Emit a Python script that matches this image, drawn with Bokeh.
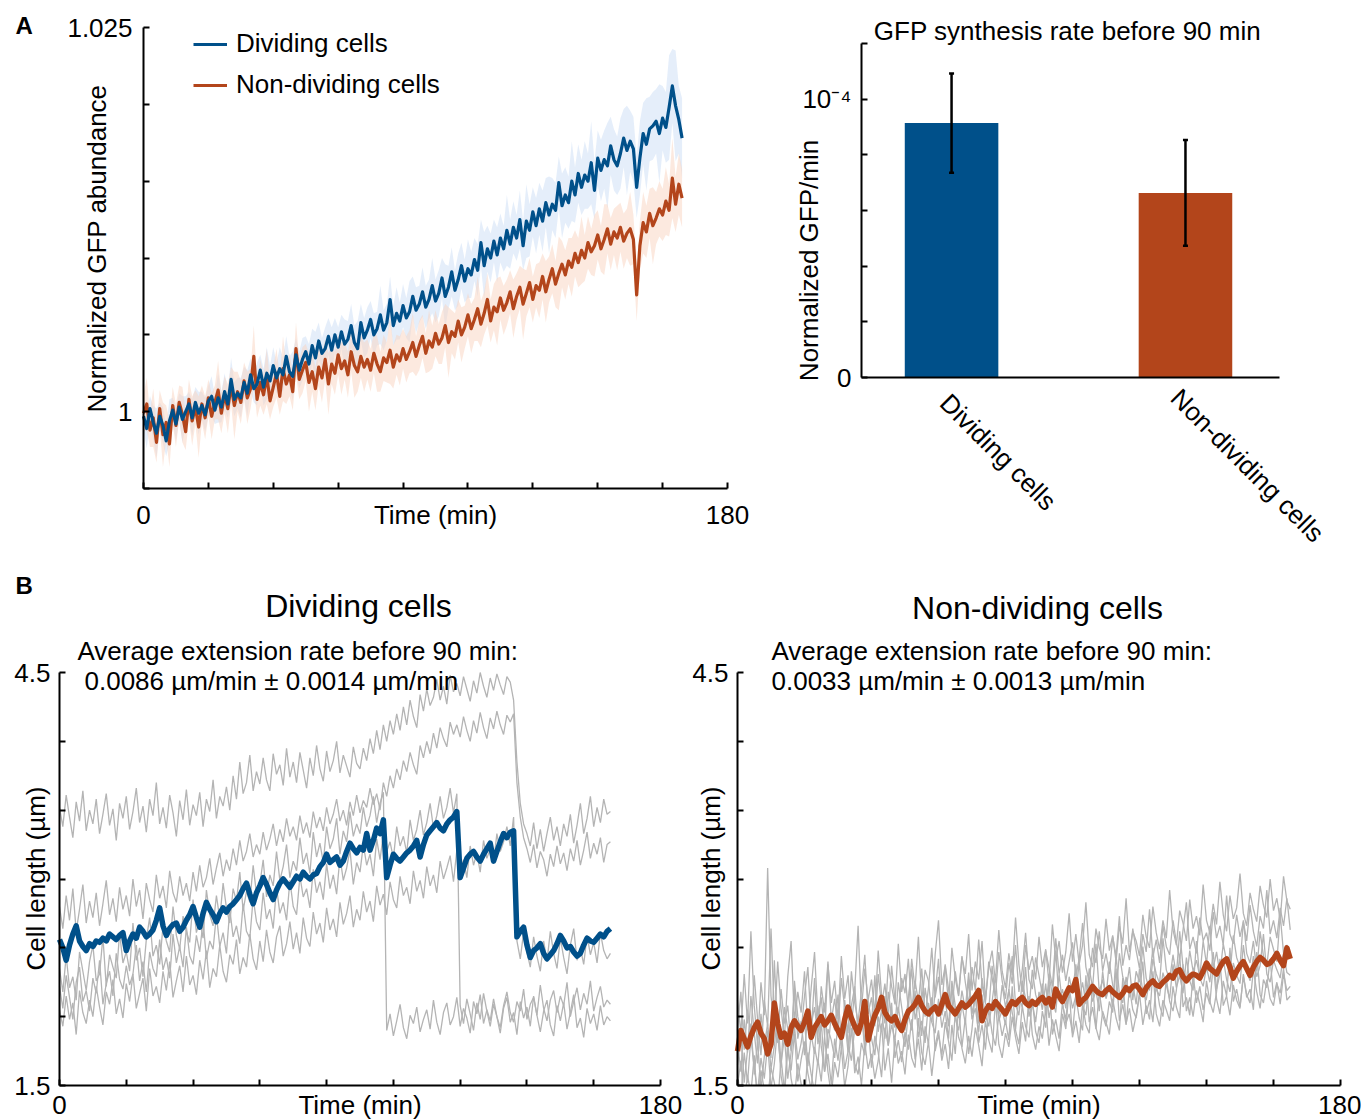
import math
from bokeh.plotting import figure
from bokeh.models import (Range1d, FixedTicker, Label, Legend, LegendItem,
                          ColumnDataSource, Whisker, TeeHead, BoxAnnotation)
from bokeh.layouts import row, column
from bokeh.embed import file_html
from bokeh.resources import INLINE

FONT = "Liberation Sans"
BLUE = "#00508A"
ORANGE = "#B3451B"
GRAY = "#B4B4B4"

# ---------------- Panel A (left): normalized GFP abundance ----------------
minutes_A = list(range(167))
# values are (abundance - 1) x 1000
dividing_gfp_permille = [
    -0.3, -1.1, 0.2, -0.7, -1.4, -0.3, -0.9, -1.9, -0.6, 0.1,
    -0.8, 0.3, -0.5, 0.0, 0.5, -0.4, 0.6, -0.1, 0.4, -0.2,
    0.7, 1.0, 0.1, 0.9, 0.3, 1.3, 0.5, 2.1, 0.8, 1.2,
    0.9, 1.9, 1.2, 2.4, 1.5, 1.8, 2.7, 1.6, 2.5, 2.0,
    3.0, 2.2, 2.8, 2.4, 3.6, 2.6, 2.3, 3.7, 2.7, 3.4,
    3.9, 3.1, 4.3, 3.5, 4.6, 3.8, 4.1, 4.9, 4.0, 5.0,
    4.2, 5.2, 4.4, 4.7, 5.6, 4.5, 4.1, 5.8, 4.8, 5.3,
    6.0, 5.0, 5.4, 6.3, 5.3, 5.8, 7.3, 5.6, 6.4, 5.9,
    6.9, 6.1, 6.5, 7.5, 6.6, 7.0, 7.8, 6.8, 7.3, 8.2,
    7.2, 7.7, 8.7, 7.5, 8.1, 9.1, 7.9, 8.6, 9.5, 8.5,
    9.3, 8.9, 9.9, 9.2, 11.0, 9.5, 10.6, 10.0, 11.1, 10.2,
    11.3, 10.6, 11.8, 10.9, 12.0, 11.3, 12.5, 10.8, 12.4, 11.8,
    13.0, 12.1, 13.2, 12.4, 13.6, 12.8, 13.5, 13.1, 14.9, 13.4,
    14.1, 13.6, 15.0, 14.1, 15.5, 14.6, 15.4, 15.0, 16.2, 14.4,
    16.5, 15.7, 16.4, 16.0, 17.3, 16.4, 16.0, 16.8, 17.8, 17.0,
    17.6, 17.1, 14.6, 16.5, 18.1, 17.4, 18.4, 18.6, 18.9, 18.1,
    19.1, 18.5, 19.8, 21.2, 19.9, 19.0, 17.8]
dividing_gfp_sd_permille = [
    0.9, 1.3, 0.8, 1.1, 1.6, 0.9, 1.2, 1.0, 1.4, 0.8,
    1.1, 0.9, 1.5, 1.0, 0.8, 1.2, 1.0, 1.4, 0.9, 1.1,
    1.0, 1.3, 0.9, 1.6, 1.0, 1.2, 0.9, 1.4, 1.1, 1.0,
    1.3, 1.0, 1.5, 1.1, 0.9, 1.4, 1.0, 1.2, 1.7, 1.0,
    1.2, 1.0, 1.4, 1.1, 1.3, 1.0, 1.6, 1.1, 1.2, 1.4,
    1.0, 1.3, 1.1, 1.7, 1.2, 1.0, 1.4, 1.2, 1.5, 1.1,
    1.3, 1.1, 1.6, 1.2, 1.4, 1.1, 1.8, 1.2, 1.3, 1.5,
    1.2, 1.4, 1.1, 1.9, 1.3, 1.2, 1.5, 1.3, 1.7, 1.2,
    1.4, 1.3, 2.0, 1.3, 1.5, 1.2, 1.6, 1.4, 1.3, 1.8,
    1.4, 1.5, 1.3, 2.1, 1.4, 1.6, 1.3, 1.7, 1.5, 1.4,
    1.9, 1.5, 1.4, 1.7, 1.5, 2.2, 1.5, 1.6, 1.4, 1.8,
    1.6, 1.5, 2.3, 1.6, 1.7, 1.5, 1.9, 1.6, 2.4, 1.7,
    1.6, 1.8, 1.7, 2.0, 1.6, 2.5, 1.7, 1.8, 1.7, 2.1,
    1.8, 1.7, 2.6, 1.8, 1.9, 1.8, 2.2, 1.8, 2.7, 1.9,
    1.8, 2.0, 1.9, 2.8, 1.9, 2.0, 1.9, 2.3, 1.9, 2.9,
    2.0, 2.1, 2.0, 2.4, 2.0, 3.0, 2.1, 2.2, 2.1, 3.2,
    2.1, 2.3, 3.4, 2.4, 3.6, 2.2, 2.6]
nondividing_gfp_permille = [
    -0.1, 0.5, -1.2, -0.4, -2.0, 0.2, -1.5, -0.7, -2.1, 0.4,
    -0.9, 0.6, -0.2, -1.3, 0.8, -0.6, 0.3, -1.0, 0.5, -0.4,
    0.9, -0.3, 0.6, 1.4, -0.1, 1.1, 0.2, 1.7, 0.4, 1.3,
    0.6, 2.0, 0.9, 1.5, 3.6, 0.8, 1.9, 1.1, 2.3, 0.7,
    1.6, 2.5, 1.0, 2.8, 1.8, 2.4, 1.3, 4.1, 2.1, 2.7,
    3.2, 1.9, 2.6, 1.5, 2.9, 2.2, 3.4, 1.8, 3.1, 2.5,
    3.7, 2.8, 3.3, 2.4, 3.9, 3.0, 2.6, 3.6, 2.9, 3.4,
    2.7, 3.8, 3.1, 2.6, 3.5, 3.2, 4.0, 2.9, 3.7, 3.3,
    4.1, 3.4, 3.9, 4.5, 3.6, 4.3, 4.9, 3.8, 4.6, 4.2,
    5.1, 4.4, 4.8, 5.6, 4.5, 5.2, 4.9, 5.9, 5.0, 5.5,
    6.3, 5.4, 6.0, 6.7, 5.7, 6.4, 7.3, 5.9, 6.8, 6.5,
    7.4, 6.6, 7.1, 7.8, 6.7, 7.5, 8.1, 7.0, 7.7, 8.4,
    7.3, 8.2, 7.9, 8.8, 7.8, 8.6, 9.3, 8.3, 9.0, 9.6,
    8.9, 9.8, 9.4, 10.3, 9.7, 10.5, 10.0, 11.0, 10.4, 10.8,
    11.5, 10.6, 11.2, 11.9, 10.9, 11.7, 11.3, 12.0, 11.1, 11.6,
    11.9, 11.2, 7.6, 10.8, 12.3, 11.7, 12.9, 12.1, 12.6, 13.2,
    12.8, 13.7, 13.1, 15.2, 13.5, 14.8, 13.9]
nondividing_gfp_sd_permille = [
    1.2, 1.7, 1.1, 1.9, 1.3, 1.2, 2.1, 1.1, 1.5, 1.2,
    1.4, 1.1, 1.8, 1.2, 1.3, 1.6, 1.1, 2.0, 1.2, 1.4,
    1.2, 1.5, 1.1, 1.9, 1.3, 1.2, 1.6, 1.2, 2.2, 1.3,
    1.4, 1.2, 1.7, 1.3, 2.0, 1.2, 1.5, 1.3, 1.8, 1.2,
    1.3, 1.6, 1.2, 2.1, 1.3, 1.4, 1.2, 1.7, 1.3, 1.5,
    1.2, 1.9, 1.3, 1.4, 1.2, 1.6, 1.3, 2.0, 1.3, 1.4,
    1.3, 1.7, 1.2, 1.5, 1.3, 2.1, 1.3, 1.4, 1.6, 1.3,
    1.4, 1.3, 1.8, 1.3, 1.5, 1.3, 2.2, 1.4, 1.3, 1.6,
    1.3, 1.5, 1.4, 1.9, 1.3, 1.6, 1.4, 1.3, 2.0, 1.4,
    1.5, 1.3, 1.7, 1.4, 2.3, 1.4, 1.5, 1.4, 1.8, 1.4,
    1.4, 1.6, 1.4, 2.1, 1.5, 1.4, 1.7, 1.4, 1.5, 2.2,
    1.4, 1.6, 1.5, 1.4, 1.9, 1.5, 1.4, 2.3, 1.5, 1.6,
    1.5, 1.4, 1.8, 1.5, 2.0, 1.5, 1.6, 1.5, 2.4, 1.5,
    1.6, 1.5, 1.9, 1.5, 1.6, 2.2, 1.5, 1.7, 1.5, 2.0,
    1.6, 1.5, 2.3, 1.6, 1.7, 1.5, 2.1, 1.6, 1.8, 1.6,
    2.4, 1.6, 1.7, 1.6, 2.0, 1.7, 1.6, 2.5, 1.7, 1.8,
    1.7, 2.2, 1.7, 2.6, 1.8, 2.0, 1.9]

# ---------------- Panel A (right): synthesis rate bars ----------------
bar_categories = ["Dividing cells", "Non-dividing cells"]
bar_positions = [1, 2]
synthesis_rate = [0.914e-4, 0.663e-4]
synthesis_err = [0.178e-4, 0.190e-4]

# ---------------- Panel B: cell length traces ----------------
minutes_B = list(range(166))
div_cell_1 = [
    3.52, 3.38, 3.61, 3.45, 3.30, 3.56, 3.42, 3.64, 3.35, 3.50,
    3.40, 3.58, 3.33, 3.47, 3.62, 3.39, 3.51, 3.28, 3.55, 3.44,
    3.60, 3.36, 3.49, 3.66, 3.41, 3.53, 3.34, 3.58, 3.46, 3.70,
    3.40, 3.52, 3.37, 3.61, 3.48, 3.31, 3.57, 3.43, 3.65, 3.39,
    3.54, 3.46, 3.63, 3.38, 3.58, 3.49, 3.72, 3.44, 3.60, 3.53,
    3.67, 3.50, 3.75, 3.58, 3.85, 3.62, 3.70, 3.90, 3.64, 3.78,
    3.69, 3.88, 3.72, 3.64, 3.91, 3.76, 3.83, 3.68, 3.95, 3.74,
    3.85, 3.70, 3.92, 3.79, 3.66, 3.88, 3.75, 3.97, 3.80, 3.71,
    3.93, 3.78, 3.86, 4.00, 3.77, 3.90, 3.82, 3.74, 3.96, 3.84,
    3.80, 3.95, 3.86, 4.02, 3.91, 4.08, 3.94, 4.12, 4.00, 4.15,
    4.05, 4.20, 4.08, 4.25, 4.12, 4.30, 4.18, 4.10, 4.34, 4.22,
    4.38, 4.26, 4.32, 4.45, 4.30, 4.40, 4.27, 4.48, 4.36, 4.42,
    4.33, 4.47, 4.38, 4.29, 4.44, 4.35, 4.50, 4.40, 4.32, 4.46,
    4.37, 4.49, 4.41, 4.34, 4.47, 4.43, 4.30, 3.85, 3.55, 3.40,
    3.33, 3.24, 3.41, 3.22, 3.36, 3.20, 3.33, 3.45, 3.28, 3.38,
    3.24, 3.40, 3.31, 3.47, 3.26, 3.39, 3.55, 3.33, 3.44, 3.60,
    3.38, 3.52, 3.41, 3.58, 3.47, 3.49]
div_cell_2 = [
    2.80, 2.64, 2.88, 2.70, 2.93, 2.62, 2.78, 2.96, 2.68, 2.84,
    2.72, 2.90, 2.66, 2.82, 2.99, 2.74, 2.86, 2.69, 2.94, 2.78,
    2.88, 2.73, 3.00, 2.80, 2.92, 2.71, 2.97, 2.85, 2.76, 3.03,
    2.86, 2.95, 2.79, 3.06, 2.90, 2.83, 3.02, 2.88, 2.97, 2.84,
    3.05, 2.91, 3.10, 2.94, 3.01, 3.15, 2.96, 3.08, 3.19, 3.02,
    3.14, 3.06, 3.22, 3.10, 3.28, 3.13, 3.20, 3.33, 3.16, 3.25,
    3.18, 3.34, 3.21, 3.29, 3.40, 3.24, 3.36, 3.27, 3.44, 3.31,
    3.38, 3.28, 3.46, 3.33, 3.41, 3.30, 3.49, 3.37, 3.45, 3.35,
    3.52, 3.40, 3.47, 3.58, 3.42, 3.50, 3.39, 3.56, 3.46, 3.61,
    3.48, 3.57, 3.52, 3.66, 3.54, 3.62, 3.50, 3.70, 3.60, 3.75,
    3.66, 3.80, 3.72, 3.86, 3.78, 3.92, 3.83, 3.76, 3.97, 3.88,
    4.00, 3.91, 4.06, 3.95, 4.10, 4.02, 3.96, 4.14, 4.05, 4.12,
    4.03, 4.18, 4.08, 4.00, 4.15, 4.06, 4.21, 4.10, 4.02, 4.17,
    4.09, 4.22, 4.12, 4.05, 4.19, 4.14, 4.20, 3.70, 3.45, 3.30,
    3.22, 3.12, 3.25, 3.08, 3.20, 3.14, 3.02, 3.18, 3.09, 3.24,
    3.11, 3.19, 3.06, 3.22, 3.13, 3.28, 3.10, 3.21, 3.34, 3.15,
    3.26, 3.18, 3.30, 3.12, 3.25, 3.27]
div_cell_3 = [
    2.35, 2.18, 2.44, 2.21, 2.29, 2.12, 2.47, 2.33, 2.19, 2.40,
    2.52, 2.26, 2.31, 2.58, 2.22, 2.45, 2.36, 2.28, 2.61, 2.39,
    2.47, 2.33, 2.68, 2.41, 2.50, 2.29, 2.56, 2.72, 2.44, 2.52,
    2.38, 2.66, 2.55, 2.47, 2.80, 2.59, 2.49, 2.73, 2.62, 2.54,
    2.85, 2.61, 2.70, 2.57, 2.92, 2.74, 2.66, 2.88, 2.71, 2.97,
    2.79, 2.68, 2.93, 2.84, 3.05, 2.77, 2.91, 2.83, 3.10, 2.89,
    2.96, 3.14, 2.87, 3.03, 2.95, 3.20, 2.99, 3.09, 3.25, 3.01,
    3.13, 3.06, 3.30, 3.11, 3.19, 3.04, 3.34, 3.16, 3.26, 3.12,
    3.38, 3.22, 3.29, 3.44, 3.18, 3.35, 3.27, 3.49, 3.31, 3.40,
    3.33, 3.52, 3.38, 3.46, 3.60, 3.41, 3.55, 3.63,
    1.90, 2.02, 1.86, 1.97, 2.09, 1.92, 1.84, 2.01, 1.95, 2.07, 1.89, 1.98,
    2.05, 1.91, 2.12, 1.96, 1.87, 2.03, 2.10, 1.94, 2.00, 2.14,
    1.93, 2.06, 1.99, 1.88, 2.11, 2.02, 2.16, 1.95, 2.05, 1.97,
    2.13, 2.00, 1.92, 2.08, 2.18, 2.03, 1.96, 2.11, 2.04, 2.20,
    1.98, 2.09, 2.14, 2.01, 2.23, 2.06, 1.97, 2.12, 2.19, 2.03,
    2.15, 2.08, 2.25, 2.00, 2.11, 2.21, 2.05, 2.17, 2.09, 2.26,
    2.04, 2.14, 2.22, 2.07, 2.12, 2.09]
div_cell_4 = [
    2.22, 2.06, 2.30, 2.14, 1.98, 2.25, 2.36, 2.11, 2.19, 2.04,
    2.28, 2.17, 2.41, 2.09, 2.24, 2.33, 2.15, 2.46, 2.27, 2.20,
    2.37, 2.23, 2.31, 2.52, 2.26, 2.40, 2.18, 2.47, 2.35, 2.29,
    2.56, 2.34, 2.43, 2.28, 2.60, 2.39, 2.51, 2.36, 2.65, 2.44,
    2.38, 2.59, 2.47, 2.70, 2.42, 2.55, 2.49, 2.74, 2.51, 2.61,
    2.46, 2.78, 2.58, 2.66, 2.53, 2.82, 2.62, 2.57, 2.86, 2.69,
    2.63, 2.90, 2.71, 2.78, 2.64, 2.94, 2.75, 2.83, 2.70, 2.99,
    2.80, 2.74, 3.02, 2.87, 2.93, 2.79, 3.07, 2.90, 2.98, 2.85,
    3.11, 2.93, 3.03, 2.89, 3.16, 2.99, 3.08, 3.21, 2.96, 3.12,
    3.05, 3.25, 3.10, 3.18, 3.02, 3.29, 3.14, 3.33, 3.20, 3.27,
    3.15, 3.38, 3.24, 3.31, 3.19, 3.43, 3.28, 3.36, 3.50, 3.32,
    3.41, 3.55, 3.37, 3.46, 3.60, 3.44, 3.52, 3.66, 3.48, 3.62,
    2.08, 1.95, 2.13, 2.02, 1.90, 2.10, 1.98, 2.17, 2.04, 1.93,
    2.09, 2.00, 1.88, 2.06, 2.14, 1.96, 2.03, 1.87, 2.11, 1.99,
    2.07, 1.93, 2.15, 2.01, 1.89, 2.04, 2.12, 1.94, 1.86, 2.08,
    1.97, 2.10, 1.91, 2.03, 2.16, 1.92, 1.99, 1.85, 2.06, 1.95,
    2.02, 1.90, 2.08, 1.94, 2.00, 1.97]
div_cell_5 = [
    2.05, 1.93, 2.15, 1.98, 2.10, 1.87, 2.19, 2.03, 1.95, 2.12,
    2.00, 2.22, 2.07, 1.94, 2.18, 2.09, 2.27, 2.02, 2.13, 1.99,
    2.24, 2.11, 2.31, 2.06, 2.17, 2.28, 2.04, 2.35, 2.15, 2.22,
    2.10, 2.33, 2.19, 2.40, 2.14, 2.26, 2.37, 2.18, 2.44, 2.23,
    2.30, 2.16, 2.41, 2.27, 2.48, 2.21, 2.35, 2.29, 2.52, 2.33,
    2.25, 2.45, 2.38, 2.56, 2.31, 2.43, 2.36, 2.60, 2.42, 2.34,
    2.55, 2.40, 2.63, 2.47, 2.39, 2.58, 2.66, 2.44, 2.53, 2.69,
    2.49, 2.61, 2.46, 2.72, 2.57, 2.51, 2.76, 2.60, 2.68, 2.54,
    2.79, 2.63, 2.71, 2.58, 2.83, 2.67, 2.75, 2.88, 2.65, 2.78,
    2.70, 2.91, 2.76, 2.84, 2.69, 2.95, 2.81, 2.89, 2.74, 2.98,
    2.85, 2.79, 3.02, 2.88, 2.94, 2.82, 3.06, 2.91, 2.99, 2.86,
    3.09, 2.95, 3.03, 2.90, 3.13, 3.00, 3.08, 3.17, 2.98, 3.21,
    3.06, 3.14, 3.01, 3.24, 3.10, 3.19, 3.05, 3.28, 3.15, 3.22,
    3.12, 3.33, 3.20, 3.27, 3.38, 3.24, 3.45,
    2.55, 2.42, 2.61,
    2.47, 2.36, 2.58, 2.44, 2.33, 2.55, 2.40, 2.62, 2.46, 2.35,
    2.57, 2.43, 2.31, 2.52, 2.64, 2.41, 2.50, 2.38, 2.59, 2.45,
    2.54, 2.39, 2.61, 2.48, 2.42, 2.46]
dividing_mean_length = [
    2.56, 2.50, 2.41, 2.52, 2.60, 2.66, 2.55, 2.51, 2.48, 2.53,
    2.51, 2.55, 2.54, 2.57, 2.55, 2.60, 2.58, 2.56, 2.59, 2.61,
    2.48, 2.55, 2.60, 2.57, 2.65, 2.62, 2.58, 2.60, 2.63, 2.70,
    2.79, 2.66, 2.59, 2.64, 2.67, 2.68, 2.62, 2.65, 2.70, 2.74,
    2.80, 2.72, 2.65, 2.75, 2.83, 2.78, 2.74, 2.69, 2.75, 2.79,
    2.76, 2.80, 2.82, 2.85, 2.88, 2.93, 2.97, 2.89, 2.82, 2.90,
    2.95, 3.01, 2.96, 2.90, 2.85, 2.92, 2.97, 3.00, 2.97, 2.94,
    2.98, 3.02, 3.00, 3.05, 3.02, 3.00, 3.03, 3.04, 3.09, 3.12,
    3.18, 3.12, 3.14, 3.16, 3.10, 3.13, 3.20, 3.26, 3.22, 3.19,
    3.23, 3.21, 3.33, 3.21, 3.28, 3.37, 3.33, 3.43, 3.01, 3.10,
    3.18, 3.15, 3.13, 3.16, 3.19, 3.21, 3.24, 3.28, 3.16, 3.25,
    3.32, 3.35, 3.38, 3.41, 3.37, 3.35, 3.40, 3.43, 3.45, 3.49,
    3.01, 3.08, 3.15, 3.18, 3.20, 3.16, 3.13, 3.18, 3.22, 3.26,
    3.13, 3.20, 3.27, 3.33, 3.30, 3.34, 3.35, 2.58, 2.62, 2.65,
    2.52, 2.43, 2.48, 2.50, 2.53, 2.46, 2.42, 2.45, 2.48, 2.53,
    2.59, 2.55, 2.50, 2.51, 2.47, 2.44, 2.46, 2.52, 2.57, 2.55,
    2.54, 2.57, 2.60, 2.58, 2.62, 2.64]

nondiv_cell_1 = [
    2.12, 1.88, 2.31, 1.95, 2.62, 2.08, 1.79, 2.25, 2.01, 3.08,
    2.15, 1.92, 2.40, 2.06, 1.84, 2.29, 2.55, 1.97, 2.18, 2.03,
    2.33, 1.90, 2.21, 2.47, 2.00, 2.14, 1.86, 2.38, 2.10, 2.26,
    1.98, 2.44, 2.13, 2.30, 1.93, 2.19, 2.66, 2.05, 2.35, 2.12,
    2.27, 2.02, 2.48, 2.16, 1.95, 2.38, 2.22, 2.09, 2.53, 2.18,
    2.31, 2.05, 2.42, 2.20, 2.58, 2.11, 2.34, 2.26, 2.02, 2.45,
    2.70, 2.23, 2.37, 2.09, 2.50, 2.28, 2.15, 2.43, 2.31, 2.60,
    2.19, 2.40, 2.27, 2.55, 2.12, 2.36, 2.48, 2.25, 2.63, 2.33,
    2.21, 2.46, 2.30, 2.72, 2.38, 2.18, 2.52, 2.34, 2.44, 2.27,
    2.58, 2.36, 2.49, 2.24, 2.67, 2.41, 2.55, 2.32, 2.47, 2.75,
    2.40, 2.60, 2.38, 2.52, 2.83, 2.45, 2.36, 2.64, 2.50, 2.42,
    2.71, 2.48, 2.59, 2.40, 2.66, 2.53, 2.86, 2.47, 2.62, 2.55,
    2.44, 2.74, 2.58, 2.50, 2.80, 2.61, 2.49, 2.70, 2.57, 2.92,
    2.63, 2.52, 2.77, 2.68, 2.55, 2.85, 2.64, 2.73, 2.59, 2.96,
    2.70, 2.61, 2.82, 2.67, 2.98, 2.74, 2.62, 2.88, 2.71, 2.79,
    3.04, 2.75, 2.66, 2.90, 2.78, 2.69, 2.95, 2.81, 2.72, 3.00,
    2.77, 2.86, 2.70, 3.02, 2.84, 2.78]
nondiv_cell_2 = [
    1.90, 2.18, 1.76, 2.05, 1.86, 2.30, 1.98, 1.72, 2.12, 1.93,
    2.64, 2.02, 1.81, 2.20, 1.95, 2.08, 1.78, 2.26, 2.00, 1.89,
    2.15, 2.36, 1.94, 2.07, 1.85, 2.22, 2.03, 2.40, 1.97, 2.13,
    1.91, 2.28, 2.06, 1.88, 2.33, 2.10, 1.96, 2.19, 2.45, 2.02,
    2.14, 1.93, 2.31, 2.08, 2.24, 1.99, 2.37, 2.12, 2.03, 2.28,
    2.17, 2.42, 2.05, 2.26, 2.11, 2.35, 2.00, 2.21, 2.50, 2.14,
    2.29, 2.07, 2.38, 2.20, 2.03, 2.33, 2.16, 2.44, 2.25, 2.09,
    2.36, 2.19, 2.56, 2.23, 2.10, 2.40, 2.28, 2.15, 2.47, 2.26,
    2.13, 2.39, 2.24, 2.52, 2.18, 2.34, 2.61, 2.27, 2.20, 2.43,
    2.30, 2.16, 2.48, 2.35, 2.22, 2.57, 2.31, 2.45, 2.26, 2.40,
    2.54, 2.29, 2.42, 2.68, 2.36, 2.25, 2.50, 2.39, 2.62, 2.33,
    2.46, 2.31, 2.58, 2.44, 2.73, 2.37, 2.52, 2.41, 2.64, 2.48,
    2.35, 2.60, 2.47, 2.78, 2.43, 2.56, 2.39, 2.66, 2.51, 2.45,
    2.70, 2.54, 2.42, 2.63, 2.83, 2.49, 2.58, 2.46, 2.72, 2.55,
    2.61, 2.48, 2.76, 2.57, 2.66, 2.52, 2.88, 2.60, 2.53, 2.74,
    2.58, 2.69, 2.55, 2.81, 2.62, 2.51, 2.73, 2.64, 2.92, 2.60,
    2.70, 2.57, 2.79, 2.66, 2.86, 2.63]
nondiv_cell_3 = [
    1.82, 1.60, 1.98, 1.74, 2.15, 1.88, 1.66, 2.02, 1.79, 1.95,
    1.70, 2.41, 1.86, 1.63, 2.07, 1.91, 1.75, 2.20, 1.84, 1.97,
    1.72, 2.04, 1.88, 2.28, 1.80, 1.94, 2.10, 1.77, 2.01, 1.90,
    2.16, 1.83, 1.99, 1.74, 2.08, 2.22, 1.87, 2.03, 1.81, 2.12,
    1.95, 2.30, 1.89, 2.05, 1.84, 2.18, 2.00, 1.92, 2.25, 2.07,
    1.90, 2.14, 2.35, 1.98, 2.09, 1.86, 2.21, 2.04, 1.96, 2.17,
    2.42, 2.01, 2.13, 1.93, 2.26, 2.08, 1.99, 2.19, 2.05, 2.32,
    2.02, 2.15, 1.95, 2.28, 2.10, 2.04, 2.37, 2.12, 2.00, 2.23,
    2.07, 2.19, 2.44, 2.09, 2.01, 2.26, 2.13, 2.05, 2.34, 2.16,
    2.08, 2.24, 2.02, 2.31, 2.15, 2.48, 2.11, 2.20, 2.06, 2.29,
    2.17, 2.38, 2.12, 2.25, 2.09, 2.35, 2.21, 2.53, 2.18, 2.27,
    2.14, 2.40, 2.23, 2.16, 2.46, 2.29, 2.20, 2.36, 2.12, 2.33,
    2.25, 2.51, 2.28, 2.19, 2.42, 2.31, 2.24, 2.57, 2.34, 2.27,
    2.45, 2.30, 2.62, 2.36, 2.26, 2.48, 2.33, 2.41, 2.29, 2.55,
    2.38, 2.66, 2.35, 2.47, 2.31, 2.53, 2.40, 2.30, 2.59, 2.43,
    2.36, 2.70, 2.46, 2.39, 2.55, 2.33, 2.62, 2.44, 2.37, 2.58,
    2.49, 2.40, 2.74, 2.46, 2.52, 2.45]
nondiv_cell_4 = [
    1.65, 1.88, 1.52, 1.76, 1.95, 1.58, 1.82, 1.47, 1.71, 1.90,
    1.62, 1.79, 2.02, 1.66, 1.85, 1.55, 1.74, 1.93, 1.69, 1.81,
    1.98, 1.64, 1.87, 1.73, 2.08, 1.78, 1.60, 1.91, 1.83, 1.70,
    1.95, 1.77, 2.12, 1.80, 1.68, 1.92, 1.86, 2.04, 1.75, 1.97,
    1.84, 1.72, 2.00, 1.89, 2.15, 1.79, 1.94, 1.83, 2.07, 1.91,
    1.78, 2.02, 1.90, 2.19, 1.85, 1.97, 1.81, 2.10, 1.96, 1.88,
    2.13, 1.92, 2.04, 1.84, 2.22, 1.99, 1.90, 2.09, 1.95, 2.27,
    1.98, 2.06, 1.89, 2.16, 2.01, 1.93, 2.11, 2.30, 1.97, 2.05,
    1.94, 2.20, 2.03, 1.91, 2.14, 2.07, 2.36, 2.00, 2.10, 1.96,
    2.18, 2.05, 2.24, 1.99, 2.12, 2.03, 2.31, 2.09, 1.98, 2.21,
    2.06, 2.15, 2.40, 2.08, 2.01, 2.26, 2.11, 2.19, 2.04, 2.33,
    2.13, 2.22, 2.07, 2.45, 2.16, 2.10, 2.29, 2.14, 2.24, 2.09,
    2.35, 2.18, 2.12, 2.27, 2.50, 2.20, 2.15, 2.32, 2.23, 2.13,
    2.38, 2.21, 2.30, 2.17, 2.43, 2.26, 2.19, 2.55, 2.28, 2.22,
    2.36, 2.25, 2.47, 2.20, 2.31, 2.42, 2.27, 2.18, 2.39, 2.30,
    2.24, 2.52, 2.33, 2.26, 2.44, 2.29, 2.37, 2.60, 2.31, 2.25,
    2.41, 2.34, 2.28, 2.46, 2.32, 2.30]
nondiv_cell_5 = [
    1.58, 1.41, 1.74, 1.52, 1.85, 1.63, 1.45, 1.70, 1.55, 1.80,
    1.48, 1.66, 1.93, 1.57, 1.42, 1.76, 1.61, 1.88, 1.53, 1.69,
    1.82, 1.59, 1.47, 1.78, 1.65, 1.97, 1.60, 1.73, 1.51, 1.84,
    1.68, 1.90, 1.62, 1.75, 2.05, 1.66, 1.58, 1.81, 1.72, 1.95,
    1.63, 1.86, 1.74, 1.56, 1.92, 1.79, 2.10, 1.70, 1.83, 1.67,
    1.89, 1.76, 1.98, 1.69, 1.84, 1.61, 1.93, 1.80, 2.14, 1.75,
    1.87, 1.72, 1.96, 1.82, 1.68, 2.03, 1.85, 1.78, 1.99, 1.73,
    1.91, 2.18, 1.81, 1.94, 1.76, 2.06, 1.88, 1.79, 2.01, 1.86,
    1.97, 1.83, 2.22, 1.90, 1.80, 2.08, 1.93, 1.85, 2.12, 1.89,
    1.81, 2.04, 1.92, 2.26, 1.87, 1.98, 1.84, 2.10, 1.95, 2.02,
    1.88, 2.15, 1.99, 1.90, 2.30, 1.96, 2.07, 1.91, 2.18, 2.01,
    1.93, 2.11, 2.03, 2.35, 1.97, 2.09, 1.94, 2.21, 2.05, 1.99,
    2.16, 2.40, 2.02, 2.12, 1.96, 2.24, 2.08, 2.00, 2.28, 2.11,
    2.04, 2.19, 2.45, 2.07, 2.14, 2.01, 2.31, 2.10, 2.22, 2.05,
    2.17, 2.09, 2.38, 2.13, 2.02, 2.26, 2.15, 2.50, 2.11, 2.20,
    2.07, 2.29, 2.16, 2.10, 2.34, 2.18, 2.06, 2.27, 2.21, 2.42,
    2.14, 2.25, 2.09, 2.31, 2.19, 2.22]
nondiv_cell_6 = [
    1.50, 1.68, 1.38, 1.57, 1.44, 1.72, 1.35, 1.61, 1.47, 1.40,
    1.63, 1.52, 1.36, 1.70, 1.46, 1.82, 1.55, 1.42, 1.66, 1.51,
    1.39, 1.74, 1.58, 1.45, 1.69, 1.53, 1.86, 1.60, 1.43, 1.67,
    1.56, 1.78, 1.49, 1.64, 1.92, 1.59, 1.71, 1.50, 1.81, 1.62,
    1.73, 1.55, 1.68, 1.95, 1.61, 1.77, 1.52, 1.84, 1.66, 1.75,
    1.58, 1.87, 1.70, 1.63, 1.99, 1.74, 1.65, 1.82, 1.57, 1.79,
    1.90, 1.68, 1.80, 1.62, 1.94, 1.73, 2.08, 1.77, 1.66, 1.86,
    1.71, 1.92, 1.79, 1.64, 1.97, 1.83, 1.74, 2.12, 1.80, 1.70,
    1.88, 1.78, 2.00, 1.85, 1.73, 1.96, 1.82, 2.15, 1.87, 1.76,
    1.93, 1.84, 2.06, 1.79, 1.98, 1.86, 1.75, 2.02, 1.91, 2.20,
    1.85, 1.97, 1.81, 2.09, 1.94, 1.88, 2.24, 1.92, 1.83, 2.04,
    1.96, 1.87, 2.13, 1.99, 1.90, 2.28, 1.95, 2.06, 1.89, 2.01,
    2.17, 1.94, 2.08, 1.98, 2.33, 2.02, 1.93, 2.12, 2.05, 1.97,
    2.22, 2.07, 1.99, 2.38, 2.04, 2.14, 2.00, 2.19, 2.09, 1.96,
    2.26, 2.11, 2.03, 2.18, 2.42, 2.08, 2.15, 2.01, 2.23, 2.12,
    2.06, 2.31, 2.14, 2.20, 2.05, 2.47, 2.16, 2.10, 2.27, 2.13,
    2.08, 2.24, 2.17, 2.35, 2.12, 2.15]
nondividing_mean_length = [
    1.75, 1.90, 1.84, 1.78, 1.86, 1.92, 1.96, 1.88, 1.84, 1.73,
    1.80, 2.10, 1.95, 1.85, 1.88, 1.80, 1.92, 1.97, 1.93, 1.90,
    1.96, 2.04, 1.85, 1.92, 1.96, 2.00, 1.94, 1.97, 2.01, 1.95,
    1.90, 1.85, 1.98, 2.07, 1.99, 1.93, 1.88, 1.96, 2.11, 1.83,
    1.93, 2.01, 2.06, 2.14, 2.03, 1.99, 1.97, 2.00, 1.94, 1.90,
    1.98, 2.04, 2.06, 2.09, 2.14, 2.08, 2.04, 2.02, 2.05, 2.07,
    2.02, 2.09, 2.16, 2.08, 2.05, 2.02, 2.06, 2.10, 2.07, 2.09,
    2.12, 2.15, 2.19, 1.97, 2.04, 2.08, 2.06, 2.11, 2.08, 2.05,
    2.02, 2.07, 2.11, 2.09, 2.12, 2.14, 2.10, 2.08, 2.11, 2.09,
    2.12, 2.14, 2.10, 2.13, 2.07, 2.20, 2.15, 2.11, 2.16, 2.21,
    2.19, 2.27, 2.09, 2.12, 2.14, 2.18, 2.22, 2.19, 2.17, 2.16,
    2.19, 2.21, 2.18, 2.16, 2.14, 2.17, 2.21, 2.19, 2.22, 2.23,
    2.20, 2.16, 2.21, 2.24, 2.26, 2.23, 2.22, 2.25, 2.27, 2.30,
    2.28, 2.33, 2.34, 2.29, 2.26, 2.29, 2.31, 2.30, 2.28, 2.33,
    2.39, 2.35, 2.33, 2.31, 2.36, 2.40, 2.42, 2.36, 2.28, 2.33,
    2.37, 2.40, 2.35, 2.30, 2.36, 2.40, 2.43, 2.41, 2.38, 2.39,
    2.42, 2.46, 2.41, 2.37, 2.50, 2.42]

x_major = [0, 90, 180]
x_minor = [0, 20, 40, 60, 80, 100, 120, 140, 160, 180]
x_labels = {0: "0", 90: "Time (min)", 180: "180"}

GEOM = {}


def panel(name, cl, ct, w, h, bl, bt, br, bb, x0, x1, y0, y1):
    """Figure whose frame fills the canvas; the axes box sits at (bl..br, bt..bb) page px."""
    sx = (br - bl) / (x1 - x0)
    sy = (bb - bt) / (y1 - y0)
    xr = Range1d(x0 - (bl - cl) / sx, x1 + (cl + w - br) / sx)
    yr = Range1d(y0 - (ct + h - bb) / sy, y1 + (bt - ct) / sy)
    p = figure(width=w, height=h, x_range=xr, y_range=yr, title=None,
               output_backend="svg", toolbar_location=None,
               min_border_left=0, min_border_right=0,
               min_border_top=0, min_border_bottom=0)
    p.outline_line_color = None
    p.xgrid.visible = False
    p.ygrid.visible = False
    p.background_fill_color = "white"
    p.border_fill_color = "white"
    xa, ya = p.xaxis[0], p.yaxis[0]
    xa.fixed_location = y0
    xa.bounds = (x0, x1)
    ya.fixed_location = x0
    ya.bounds = (y0, y1)
    for ax in (xa, ya):
        ax.level = "overlay"
        ax.axis_line_width = 2
        ax.axis_line_color = "black"
        ax.major_tick_line_color = None
        ax.major_tick_in = 0
        ax.major_tick_out = 0
        ax.minor_tick_line_color = "black"
        ax.minor_tick_line_width = 2
        ax.minor_tick_in = 6
        ax.minor_tick_out = 0
        ax.major_label_text_font = FONT
        ax.major_label_text_font_size = "26px"
        ax.major_label_text_color = "black"
        ax.axis_label = None
    GEOM[name] = (cl, ct, w, h)
    return p


def add_text(p, name, X, Y, text, size="26px", align="left", baseline="middle",
             angle=0.0, bold=False, data_x=None, x_offset=0):
    cl, ct, w, h = GEOM[name]
    if data_x is None:
        x, xu = X - cl, "screen"
    else:
        x, xu = data_x, "data"
    p.add_layout(Label(x=x, y=ct + h - Y, x_units=xu, y_units="screen", text=text,
                       text_font=FONT, text_font_size=size, text_align=align,
                       text_baseline=baseline, angle=angle, x_offset=x_offset,
                       text_font_style="bold" if bold else "normal",
                       text_color="black"))


# ---------- A left ----------
pA = panel("A", 0, 0, 780, 568, 143, 27, 727, 488, 0, 180, 0.995, 1.025)
pA.xaxis[0].ticker = FixedTicker(ticks=x_major, minor_ticks=x_minor)
pA.xaxis[0].major_label_overrides = x_labels
pA.xaxis[0].major_label_standoff = 11
pA.yaxis[0].ticker = FixedTicker(ticks=[1.0, 1.025],
                                 minor_ticks=[0.995, 1.0, 1.005, 1.01, 1.015, 1.02, 1.025])
pA.yaxis[0].major_label_overrides = {1.0: "1", 1.025: "1.025"}
pA.yaxis[0].major_label_standoff = 11

div_mean = [1 + v / 1000 for v in dividing_gfp_permille]
div_lo = [1 + (v - s) / 1000 for v, s in zip(dividing_gfp_permille, dividing_gfp_sd_permille)]
div_hi = [1 + (v + s) / 1000 for v, s in zip(dividing_gfp_permille, dividing_gfp_sd_permille)]
non_mean = [1 + v / 1000 for v in nondividing_gfp_permille]
non_lo = [1 + (v - s) / 1000 for v, s in zip(nondividing_gfp_permille, nondividing_gfp_sd_permille)]
non_hi = [1 + (v + s) / 1000 for v, s in zip(nondividing_gfp_permille, nondividing_gfp_sd_permille)]

pA.varea(x=minutes_A, y1=div_lo, y2=div_hi, fill_color="#D3E3F6", fill_alpha=0.6)
pA.varea(x=minutes_A, y1=non_lo, y2=non_hi, fill_color="#F9D3C0", fill_alpha=0.5)
r_non = pA.line(minutes_A, non_mean, line_color=ORANGE, line_width=3.2, line_join="round")
r_div = pA.line(minutes_A, div_mean, line_color=BLUE, line_width=3.2, line_join="round")

legend = Legend(items=[LegendItem(label="Dividing cells", renderers=[r_div]),
                       LegendItem(label="Non-dividing cells", renderers=[r_non])],
                location=(193, 468), orientation="vertical",
                border_line_color=None, background_fill_alpha=0,
                padding=0, margin=0, spacing=10, glyph_width=34, glyph_height=30,
                label_height=30, label_standoff=9, label_text_font=FONT,
                label_text_font_size="26px", label_text_color="black")
pA.add_layout(legend)

add_text(pA, "A", 15, 25, "A", size="24px", bold=True)
add_text(pA, "A", 96, 248, "Normalized GFP abundance", align="center", angle=math.pi / 2)

# ---------- A right ----------
pR = panel("R", 780, 0, 581, 568, 861, 43, 1279, 377, 0.615, 2.402, 0, 1.2e-4)
pR.xaxis[0].ticker = FixedTicker(ticks=[], minor_ticks=[])
pR.yaxis[0].ticker = FixedTicker(ticks=[0, 1e-4],
                                 minor_ticks=[0, 2e-5, 4e-5, 6e-5, 8e-5, 1e-4, 1.2e-4])
pR.yaxis[0].major_label_overrides = {0: "0", 1e-4: "10\u207b\u2074"}
pR.yaxis[0].major_label_standoff = 10

bar_src = ColumnDataSource(dict(x=bar_positions, top=synthesis_rate,
                                color=[BLUE, ORANGE],
                                upper=[r + e for r, e in zip(synthesis_rate, synthesis_err)],
                                lower=[r - e for r, e in zip(synthesis_rate, synthesis_err)]))
pR.vbar(x="x", top="top", width=0.4, bottom=0, fill_color="color",
        line_color=None, source=bar_src)
pR.add_layout(Whisker(source=bar_src, base="x", upper="upper", lower="lower",
                      line_color="black", line_width=2.5, level="overlay",
                      upper_head=TeeHead(size=5, line_width=2.5, line_color="black"),
                      lower_head=TeeHead(size=5, line_width=2.5, line_color="black")))
add_text(pR, "R", 0, 398, bar_categories[0], angle=-math.pi / 4,
         data_x=bar_positions[0], x_offset=-7)
add_text(pR, "R", 0, 393, bar_categories[1], angle=-math.pi / 4,
         data_x=bar_positions[1], x_offset=-10)
add_text(pR, "R", 1067, 30, "GFP synthesis rate before 90 min", align="center")
add_text(pR, "R", 808, 260, "Normalized GFP/min", align="center", angle=math.pi / 2)


# ---------- B panels ----------
def b_panel(name, cl, w, bl, br):
    p = panel(name, cl, 568, w, 551, bl, 672, br, 1085, 0, 180, 1.5, 4.5)
    p.xaxis[0].ticker = FixedTicker(ticks=x_major, minor_ticks=x_minor)
    p.xaxis[0].major_label_overrides = dict(x_labels)
    p.xaxis[0].major_label_standoff = 4
    p.yaxis[0].ticker = FixedTicker(ticks=[1.5, 4.5],
                                    minor_ticks=[1.5, 2.0, 2.5, 3.0, 3.5, 4.0, 4.5])
    p.yaxis[0].major_label_standoff = 9
    return p


pB1 = b_panel("B1", 0, 692, 59, 660)
for trace in (div_cell_1, div_cell_2, div_cell_3, div_cell_4, div_cell_5):
    pB1.line(minutes_B, trace, line_color=GRAY, line_width=1.3)
pB1.line(minutes_B, dividing_mean_length, line_color=BLUE, line_width=5.5, line_join="round")
add_text(pB1, "B1", 15, 585, "B", size="24px", bold=True)
add_text(pB1, "B1", 358, 605, "Dividing cells", size="32px", align="center")
add_text(pB1, "B1", 77, 650, "Average extension rate before 90 min:")
add_text(pB1, "B1", 84, 680, "0.0086 \u00b5m/min \u00b1 0.0014 \u00b5m/min")
add_text(pB1, "B1", 35, 878, "Cell length (\u00b5m)", align="center", angle=math.pi / 2)

pB2 = b_panel("B2", 692, 669, 737, 1340)
for trace in (nondiv_cell_1, nondiv_cell_2, nondiv_cell_3, nondiv_cell_4,
              nondiv_cell_5, nondiv_cell_6):
    pB2.line(minutes_B, trace, line_color=GRAY, line_width=1.3)
pB2.line(minutes_B, nondividing_mean_length, line_color=ORANGE, line_width=5.5, line_join="round")
# white mask below the x axis (traces dip under the 1.5 limit and are cut at the axis)
pB2.add_layout(BoxAnnotation(top=1.5, fill_color="white", fill_alpha=1.0,
                             line_color=None, level="annotation"))
add_text(pB2, "B2", 1037, 607, "Non-dividing cells", size="32px", align="center")
add_text(pB2, "B2", 771, 650, "Average extension rate before 90 min:")
add_text(pB2, "B2", 771, 680, "0.0033 \u00b5m/min \u00b1 0.0013 \u00b5m/min")
add_text(pB2, "B2", 710, 878, "Cell length (\u00b5m)", align="center", angle=math.pi / 2)

layout = column(row(pA, pR), row(pB1, pB2))
open("out.html", "w").write(file_html(layout, INLINE))
